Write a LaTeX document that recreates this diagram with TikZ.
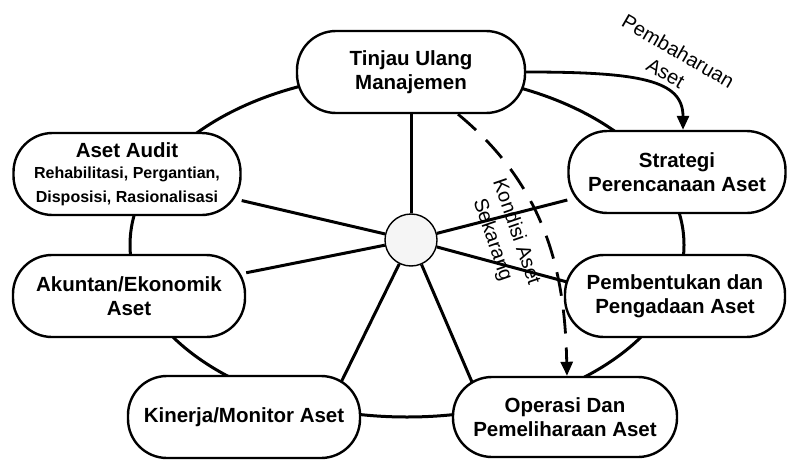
\documentclass[tikz,border=0pt]{standalone}
\usepackage{fontspec}
\setmainfont{Liberation Sans}
\usetikzlibrary{arrows.meta,backgrounds,calc}

\newcommand{\subline}{\fontsize{16}{22}\selectfont}

\begin{document}
\begin{tikzpicture}[x=1pt,y=-1pt,
  stage/.style={draw, line width=2.4pt, fill=white, rounded corners=39pt,
    minimum height=82pt, inner sep=0pt, align=center,
    font=\fontsize{20.5}{23.5}\selectfont\bfseries},
  ring/.style={line width=3pt},
  spoke/.style={line width=3pt},
  flow/.style={line width=2.8pt, -{Triangle[length=14pt,width=12pt]}},
  flowdash/.style={flow, dash pattern=on 24pt off 14pt},
  lab/.style={align=center, inner sep=0pt, font=\fontsize{20}{25}\selectfont}
]
\useasboundingbox (0,0) rectangle (789,460);

% hub of the cycle
\node[circle, draw, line width=1.4pt, fill=black!4, minimum size=52pt, inner sep=0pt] (hub) at (411,240) {};

% stages of the asset cycle
\node[stage, minimum width=228pt] (tinjau) at (411,72) {Tinjau Ulang\\Manajemen};
\node[stage, minimum width=227pt] (audit) at (127,174)
  {Aset Audit\\[-2pt]{\subline Rehabilitasi, Pergantian,}\\{\subline Disposisi, Rasionalisasi}};
\node[stage, minimum width=217pt] (strat) at (677,172) {Strategi\\Perencanaan Aset};
\node[stage, minimum width=220pt] (pemb) at (675,296) {Pembentukan dan\\Pengadaan Aset};
\node[stage, minimum width=224pt, minimum height=80pt] (oper) at (565,417) {Operasi Dan\\Pemeliharaan Aset};
\node[stage, minimum width=232pt] (kin) at (244,417) {Kinerja/Monitor Aset};
\node[stage, minimum width=232pt] (akun) at (129,296) {Akuntan/Ekonomik\\Aset};

% the cycle ring and the spokes run behind the stages
\begin{scope}[on background layer]
  \draw[ring] (407,245) ellipse [x radius=277, y radius=172];
  \draw[spoke] (hub) -- (tinjau);
  \draw[spoke] (hub) -- (audit);
  \draw[spoke] (hub) -- (strat);
  \draw[spoke] (hub) -- ($(pemb.center)+(0,15)$);
  \draw[spoke] (hub) -- (akun);
  \draw[spoke] (hub) -- ($(kin.center)+(80,0)$);
  \draw[spoke] (hub) -- ($(oper.center)+(-78,0)$);
\end{scope}

% feedback arrows
\draw[flow] (tinjau.east) .. controls (640,72) and (683,80) .. ($(strat.north)+(6,0)$);
\draw[flowdash] ($(tinjau.south)+(47,0)$) .. controls (550,190) and (565,280) .. ($(oper.north)+(2,0)$);

\node[lab, rotate=-30] (renew) at (672,62) {Pembaharuan\\Aset};
\node[lab, rotate=-71] (cond) at (504,236) {Kondisi Aset\\Sekarang};
\end{tikzpicture}
\end{document}
